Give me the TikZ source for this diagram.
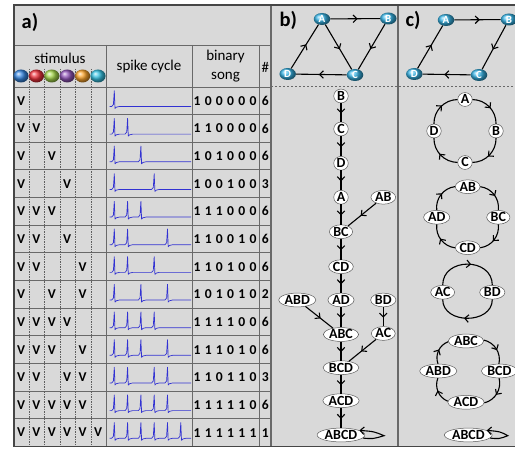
\documentclass[tikz,border=0pt]{standalone}
\usepackage{fontspec}
\setmainfont{Carlito}
\usetikzlibrary{arrows.meta,decorations.markings,shapes.geometric}

\definecolor{panelgrey}{RGB}{217,217,217}
\definecolor{gridline}{RGB}{105,105,105}
\definecolor{frameline}{RGB}{70,70,70}
\definecolor{dotline}{RGB}{95,95,95}
\definecolor{tracecol}{RGB}{50,50,210}
\definecolor{nodeline}{RGB}{90,90,90}
\definecolor{stimA}{RGB}{55,135,225}
\definecolor{stimB}{RGB}{238,50,60}
\definecolor{stimC}{RGB}{165,215,75}
\definecolor{stimD}{RGB}{145,85,185}
\definecolor{stimE}{RGB}{252,165,45}
\definecolor{stimF}{RGB}{55,195,228}
\definecolor{gballcol}{RGB}{55,180,230}

\tikzset{
  outerrule/.style={draw=frameline, line width=1.6pt},
  tabrule/.style={draw=gridline, line width=0.9pt},
  stimdots/.style={draw=dotline, line width=0.6pt, dash pattern=on 1.2pt off 1.3pt},
  sepdash/.style={draw=gridline, line width=0.8pt, dash pattern=on 2pt off 2pt},
  headtext/.style={font=\fontsize{15}{18}\selectfont, inner sep=0pt},
  paneltag/.style={font=\bfseries\fontsize{20.5}{20.5}\selectfont, inner sep=0pt},
  vmark/.style={font=\bfseries\fontsize{13.5}{13.5}\selectfont, inner sep=0pt},
  digit/.style={font=\bfseries\fontsize{13.6}{13.6}\selectfont, inner sep=0pt},
  trace/.style={draw=tracecol, line width=0.7pt, line join=round},
  gball/.style={ellipse, minimum width=16.5pt, minimum height=12pt, inner sep=0pt,
    shading=ball, ball color=gballcol, text=white,
    font=\bfseries\fontsize{11}{11}\selectfont},
  stnode/.style={ellipse, draw=nodeline, line width=0.5pt, fill=white,
    inner xsep=0.6pt, inner ysep=0pt, text height=9pt, text depth=0pt,
    minimum width=14.5pt, minimum height=13.8pt,
    font=\bfseries\fontsize{14}{14}\selectfont},
  link/.style={draw=black, line width=1.1pt},
  midarrow/.style={postaction={decorate}, decoration={markings,
    mark=at position 0.55 with {\arrow{Straight Barb[length=3.8pt,width=7.5pt,line width=1.1pt]}}}},
  endarrow/.style={-{Straight Barb[length=3.8pt,width=7.5pt,line width=1.1pt]}},
}

\begin{document}
\begin{tikzpicture}[x=1pt,y=1pt]
\useasboundingbox (0,0) rectangle (515,450);

% background of the three panels
\fill[panelgrey] (14,3.5) rectangle (515,445);

% ---------- panel a: table rules ----------
\draw[tabrule] (14,405) -- (271,405);
\draw[tabrule] (14,363) -- (271,363);
\foreach \k in {1,...,12}
  \draw[tabrule] (14,{363-\k*27.65}) -- (271,{363-\k*27.65});
\foreach \x in {106,192,259.7}
  \draw[tabrule] (\x,405) -- (\x,3.5);
\foreach \x in {29,44.5,60,75.5,91}
  \draw[stimdots] (\x,381) -- (\x,3.5);

% panel separators
\draw[sepdash] (271,364) -- (515,364);
\draw[tabrule, line width=1.1pt] (271,445) -- (271,3.5);
\draw[tabrule, line width=1.1pt] (398,445) -- (398,3.5);
\draw[outerrule] (516,445) -- (14,445) -- (14,3.5) -- (516,3.5);

% ---------- panel a: headings ----------
\node[paneltag] (taga) at (30,428) {a)};
\node[headtext] (hstim) at (60,392) {stimulus};
\node[headtext] (hspike) at (149,383) {spike cycle};
\node[headtext] (hbin) at (225.5,393) {binary};
\node[headtext] (hsong) at (225.5,373) {song};
\node[headtext] (hnum) at (265.3,383) {\#};

% stimulus colours
\foreach \c [count=\k] in {stimA,stimB,stimC,stimD,stimE,stimF}
  \shade[ball color=\c] ({21+15.4*(\k-1)},374) ellipse [x radius=7.6, y radius=6.5];

% ---------- panel a: rows ----------
\foreach \r/\stim/\song/\spk/\cnt in {
  1/{1}/{1,0,0,0,0,0}/{1}/6,
  2/{1,2}/{1,1,0,0,0,0}/{1,2}/6,
  3/{1,3}/{1,0,1,0,0,0}/{1,3}/6,
  4/{1,4}/{1,0,0,1,0,0}/{1,4}/3,
  5/{1,2,3}/{1,1,1,0,0,0}/{1,2,3}/6,
  6/{1,2,4}/{1,1,0,0,1,0}/{1,2,5}/6,
  7/{1,2,5}/{1,1,0,1,0,0}/{1,2,4}/6,
  8/{1,3,5}/{1,0,1,0,1,0}/{1,3,5}/2,
  9/{1,2,3,4}/{1,1,1,1,0,0}/{1,2,3,4}/6,
  10/{1,2,3,5}/{1,1,1,0,1,0}/{1,2,3,5}/6,
  11/{1,2,4,5}/{1,1,0,1,1,0}/{1,2,4,5}/3,
  12/{1,2,3,4,5}/{1,1,1,1,1,0}/{1,2,3,4,5}/6,
  13/{1,2,3,4,5,6}/{1,1,1,1,1,1}/{1,2,3,4,5,6}/1}{
  \pgfmathsetmacro\rowtop{363-(\r-1)*27.65}
  \pgfmathsetmacro\rowmid{\rowtop-13.8}
  \pgfmathsetmacro\basey{\rowtop-19.5}
  \pgfmathsetmacro\peaky{\rowtop-3.8}
  \foreach \k in \stim
    \node[vmark] (v-\r-\k) at ({21+15.4*(\k-1)},\rowmid) {V};
  \foreach \d [count=\k] in \song
    \node[digit] (s-\r-\k) at ({197+11.2*(\k-1)},\rowmid) {\d};
  \node[digit] (n-\r) at (265.3,\rowmid) {\cnt};
  \draw[trace] (109.5,\basey)
    \foreach \k [evaluate=\k as \sx using 114.3+13.3*(\k-1)] in \spk {
      -- (\sx-2.6,\basey) -- (\sx-0.9,\basey+2) -- (\sx,\peaky)
      -- (\sx+0.7,\basey-2) -- (\sx+2,\basey-0.7) -- (\sx+5,\basey) }
    -- (191,\basey);
}

% ---------- panel b ----------
\node[paneltag] (tagb) at (288.3,430) {b)};
\node[gball] (bA) at (322,431) {A};
\node[gball] (bB) at (388.3,431.5) {B};
\node[gball] (bC) at (355,375) {C};
\node[gball] (bD) at (287.7,376) {D};
\draw[link,midarrow] (bA) -- (bB);
\draw[link,midarrow] (bB) -- (bC);
\draw[link,midarrow] (bA) -- (bC);
\draw[link,midarrow] (bC) -- (bD);
\draw[link,midarrow] (bD) -- (bA);

\node[stnode] (tB) at (341,354) {B};
\node[stnode] (tC) at (341,321) {C};
\node[stnode] (tD) at (341,286.7) {D};
\node[stnode] (tA) at (341,252.7) {A};
\node[stnode] (tAB) at (383.3,252.7) {AB};
\node[stnode] (tBC) at (341,218.3) {BC};
\node[stnode] (tCD) at (341,183.3) {CD};
\node[stnode] (tABD) at (297.3,150) {ABD};
\node[stnode] (tAD) at (341,150) {AD};
\node[stnode] (tBD) at (383.3,150) {BD};
\node[stnode] (tABC) at (341,115.5) {ABC};
\node[stnode] (tAC) at (383.3,116.5) {AC};
\node[stnode] (tBCD) at (341,82.3) {BCD};
\node[stnode] (tACD) at (341,49.3) {ACD};
\node[stnode] (tABCD) at (341,15) {ABCD};
\foreach \a/\b in {tB/tC, tC/tD, tD/tA, tA/tBC, tAB/tBC, tBC/tCD, tCD/tAD,
                   tABD/tABC, tAD/tABC, tBD/tAC, tABC/tBCD, tAC/tBCD,
                   tBCD/tACD, tACD/tABCD}
  \draw[link,midarrow] (\a) -- (\b);
\coordinate (bloop) at (384,14.3);
\draw[link,endarrow] (tABCD.-8) .. controls (373,11) .. (bloop)
  .. controls (374,18.5) .. (tABCD.14);

% ---------- panel c ----------
\node[paneltag] (tagc) at (413,429.5) {c)};
\node[gball] (cA) at (446,430) {A};
\node[gball] (cB) at (509,430.5) {B};
\node[gball] (cC) at (479,375) {C};
\node[gball] (cD) at (414.3,376) {D};
\draw[link,midarrow] (cA) -- (cB);
\draw[link,midarrow] (cB) -- (cC);
\draw[link,midarrow] (cC) -- (cD);
\draw[link,midarrow] (cD) -- (cA);

% cycle A B C D
\node[stnode] (kA) at (465,350.5) {A};
\node[stnode] (kB) at (496,319) {B};
\node[stnode] (kC) at (465,287.5) {C};
\node[stnode] (kD) at (434,319) {D};
\foreach \a/\b in {kA/kB, kB/kC, kC/kD, kD/kA}
  \draw[link,midarrow] (\a) to[bend left=45] (\b);

% cycle AB BC CD AD
\node[stnode] (mAB) at (467.7,263.3) {AB};
\node[stnode] (mBC) at (498.3,232.7) {BC};
\node[stnode] (mCD) at (467.7,202.3) {CD};
\node[stnode] (mAD) at (436.7,232.7) {AD};
\foreach \a/\b in {mAB/mBC, mBC/mCD, mCD/mAD, mAD/mAB}
  \draw[link,midarrow] (\a) to[bend left=45] (\b);

% cycle AC BD
\node[stnode] (pAC) at (442.7,157.7) {AC};
\node[stnode] (pBD) at (492.3,157.7) {BD};
\draw[link,midarrow] (pAC) to[out=90,in=90,looseness=1.45] (pBD);
\draw[link,midarrow] (pBD) to[out=-90,in=-90,looseness=1.3] (pAC);

% cycle ABC BCD ACD ABD
\node[stnode] (qABC) at (466,109) {ABC};
\node[stnode] (qBCD) at (499.3,79) {BCD};
\node[stnode] (qACD) at (466,47.7) {ACD};
\node[stnode] (qABD) at (438.3,79) {ABD};
\foreach \a/\b in {qABC/qBCD, qBCD/qACD, qACD/qABD, qABD/qABC}
  \draw[link,midarrow] (\a) to[bend left=45] (\b);

\node[stnode] (zABCD) at (468.3,15) {ABCD};
\coordinate (cloop) at (507.8,14.3);
\draw[link,endarrow] (zABCD.-8) .. controls (499,11) .. (cloop)
  .. controls (500,18.5) .. (zABCD.14);
\end{tikzpicture}
\end{document}
